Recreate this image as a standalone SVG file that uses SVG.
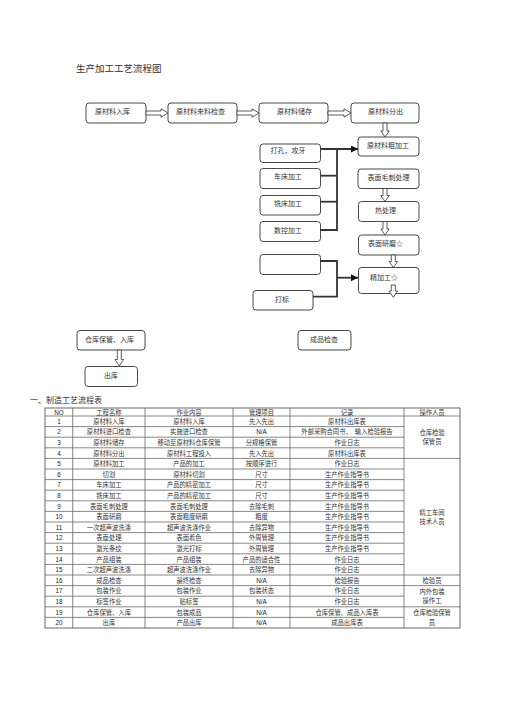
<svg xmlns="http://www.w3.org/2000/svg" width="505" height="714" viewBox="0 0 505 714">
<style>
text{font-family:"Liberation Serif","Noto Sans CJK SC",serif;fill:#333}
.bx{fill:#fff;stroke:#333;stroke-width:0.9}
.bt{font-size:7px;dominant-baseline:central}
.ha{fill:#fff;stroke:#333;stroke-width:0.8}
.cn{fill:none;stroke:#333;stroke-width:1.8}
.tl{stroke:#555;stroke-width:0.7}
.tt{font-size:6.3px;text-anchor:middle;dominant-baseline:central}
.tn{font-family:"Liberation Sans","DejaVu Sans",sans-serif;font-size:6.3px;text-anchor:middle;dominant-baseline:central;fill:#222}
</style>
<defs>
<marker id="ah" markerUnits="userSpaceOnUse" markerWidth="8" markerHeight="8" refX="7" refY="3.5" orient="auto">
<path d="M0,0 L7,3.5 L0,7 Z" fill="#111"/>
</marker>
</defs>
<rect width="505" height="714" fill="#fff"/>
<text x="76" y="71.5" style="font-size:9.5px">生产加工工艺流程图</text>

<g id="n1"><rect class="bx" x="86" y="103" width="60" height="20" rx="3"/><text class="bt" x="95" y="112">原材料入库</text></g>
<g id="n2"><rect class="bx" x="168" y="103" width="69" height="20" rx="3"/><text class="bt" x="176" y="112">原材料来料检查</text></g>
<g id="n3"><rect class="bx" x="259" y="103" width="69" height="20" rx="3"/><text class="bt" x="277" y="112">原材料储存</text></g>
<g id="n4"><rect class="bx" x="351" y="103" width="68" height="20" rx="3"/><text class="bt" x="368" y="112">原材料分出</text></g>
<g id="n5"><rect class="bx" x="358" y="137" width="61" height="19" rx="3"/><text class="bt" x="367" y="145.5">原材料粗加工</text></g>
<g id="n6"><rect class="bx" x="260" y="144" width="60.5" height="18.5" rx="3"/><text class="bt" x="270.5" y="151">打孔，攻牙</text></g>
<g id="n7"><rect class="bx" x="260" y="168.5" width="60.5" height="20" rx="3"/><text class="bt" x="274" y="176.5">车床加工</text></g>
<g id="n8"><rect class="bx" x="260" y="195.5" width="60.5" height="19.5" rx="3"/><text class="bt" x="274" y="204">铣床加工</text></g>
<g id="n9"><rect class="bx" x="260" y="221.5" width="60.5" height="20" rx="3"/><text class="bt" x="274" y="231">数控加工</text></g>
<g id="n10"><rect class="bx" x="358" y="169" width="61" height="19.5" rx="3"/><text class="bt" x="367.5" y="177.5">表面毛刺处理</text></g>
<g id="n11"><rect class="bx" x="358.5" y="201.5" width="60.5" height="20" rx="3"/><text class="bt" x="375" y="210.5">热处理</text></g>
<g id="n12"><rect class="bx" x="358.5" y="235" width="60.5" height="20" rx="3"/><text class="bt" x="368" y="243.5">表面研磨☆</text></g>
<g id="n13"><rect class="bx" x="358.5" y="267.5" width="60.5" height="26" rx="3"/><text class="bt" x="370" y="277.5">精加工☆</text></g>
<g id="n14"><rect class="bx" x="260" y="254.5" width="60.5" height="20" rx="3"/></g>
<g id="n15"><rect class="bx" x="253" y="290.5" width="60" height="19.5" rx="3"/><text class="bt" x="275" y="300">打标</text></g>
<g id="n16"><rect class="bx" x="298" y="330.5" width="53" height="19.5" rx="3"/><text class="bt" x="310" y="339.5">成品检查</text></g>
<g id="n17"><rect class="bx" x="77" y="330.5" width="68" height="19.5" rx="3"/><text class="bt" x="85" y="339.5">仓库保管、入库</text></g>
<g id="n18"><rect class="bx" x="85" y="366.5" width="52.5" height="20" rx="3"/><text class="bt" x="104" y="375.5">出库</text></g>

<g id="connectors">
<polygon class="ha" points="146,111 161,111 161,108.8 168,113 161,117.2 161,115 146,115"/>
<polygon class="ha" points="237,111 252,111 252,108.8 259,113 252,117.2 252,115 237,115"/>
<polygon class="ha" points="328,111 344,111 344,108.8 351,113 344,117.2 344,115 328,115"/>
<polygon class="ha" points="383,123 383,131 380.8,131 385,137 389.2,131 387,131 387,123"/>
<polygon class="ha" points="383,188.5 383,195.5 380.8,195.5 385,201.5 389.2,195.5 387,195.5 387,188.5"/>
<polygon class="ha" points="383,221.5 383,229 380.8,229 385,235 389.2,229 387,229 387,221.5"/>
<polygon class="ha" points="391.3,255 391.3,261.5 389,261.5 393.3,267.5 397.6,261.5 395.3,261.5 395.3,255"/>
<polygon class="ha" points="391.3,285 391.3,291 389,291 393.3,297.3 397.6,291 395.3,291 395.3,285"/>
<polygon class="ha" points="117.3,350 117.3,359.5 115,359.5 119.3,366 123.6,359.5 121.3,359.5 121.3,350"/>
<polyline class="cn" points="320.5,149 358,149" marker-end="url(#ah)"/>
<polyline class="cn" points="337,149 337,230 320.5,230"/>
<polyline class="cn" points="320.5,175.7 337,175.7"/>
<polyline class="cn" points="320.5,201.7 337,201.7"/>
<polyline class="cn" points="320.5,261 337,261 337,296.7 313,296.7"/>
<polyline class="cn" points="337,277.7 358,277.7" marker-end="url(#ah)"/>
</g>

<text x="30" y="402.5" style="font-size:8px">一、制造工艺流程表</text>

<g id="table">
<rect x="45" y="408" width="415" height="220" fill="none" stroke="#444" stroke-width="0.8"/>
<g class="tl">
<line x1="72.7" y1="408" x2="72.7" y2="628"/>
<line x1="145" y1="408" x2="145" y2="628"/>
<line x1="233" y1="408" x2="233" y2="628"/>
<line x1="290" y1="408" x2="290" y2="628"/>
<line x1="404" y1="408" x2="404" y2="628"/>
<line x1="45" y1="416" x2="460" y2="416"/>
<line x1="45" y1="426.6" x2="404" y2="426.6"/>
<line x1="45" y1="437.2" x2="404" y2="437.2"/>
<line x1="45" y1="447.8" x2="404" y2="447.8"/>
<line x1="45" y1="458.4" x2="460" y2="458.4"/>
<line x1="45" y1="469" x2="404" y2="469"/>
<line x1="45" y1="479.6" x2="404" y2="479.6"/>
<line x1="45" y1="490.2" x2="404" y2="490.2"/>
<line x1="45" y1="500.8" x2="404" y2="500.8"/>
<line x1="45" y1="511.4" x2="404" y2="511.4"/>
<line x1="45" y1="522" x2="404" y2="522"/>
<line x1="45" y1="532.6" x2="404" y2="532.6"/>
<line x1="45" y1="543.2" x2="404" y2="543.2"/>
<line x1="45" y1="553.8" x2="404" y2="553.8"/>
<line x1="45" y1="564.4" x2="404" y2="564.4"/>
<line x1="45" y1="575" x2="460" y2="575"/>
<line x1="45" y1="585.6" x2="460" y2="585.6"/>
<line x1="45" y1="596.2" x2="404" y2="596.2"/>
<line x1="45" y1="606.8" x2="460" y2="606.8"/>
<line x1="45" y1="617.4" x2="404" y2="617.4"/>
</g>
<text class="tn" x="58.9" y="412">NO</text><text class="tt" x="108.9" y="412">工程名称</text><text class="tt" x="189" y="412">作业内容</text><text class="tt" x="261.5" y="412">管理项目</text><text class="tt" x="347" y="412">记录</text><text class="tt" x="432" y="412">操作人员</text>
<text class="tn" x="58.9" y="421.3">1</text><text class="tt" x="108.9" y="421.3">原材料入库</text><text class="tt" x="189" y="421.3">原材料入库</text><text class="tt" x="261.5" y="421.3">先入先出</text><text class="tt" x="347" y="421.3">原材料出库表</text>
<text class="tn" x="58.9" y="431.9">2</text><text class="tt" x="108.9" y="431.9">原材料进口检查</text><text class="tt" x="189" y="431.9">实施进口检查</text><text class="tn" x="261.5" y="431.9">N/A</text><text class="tt" x="347" y="431.9" xml:space="preserve">外部采购合同书，  输入检验报告</text>
<text class="tn" x="58.9" y="442.5">3</text><text class="tt" x="108.9" y="442.5">原材料储存</text><text class="tt" x="189" y="442.5">移动至原材料仓库保管</text><text class="tt" x="261.5" y="442.5">分规格保管</text><text class="tt" x="347" y="442.5">作业日志</text>
<text class="tn" x="58.9" y="453.1">4</text><text class="tt" x="108.9" y="453.1">原材料分出</text><text class="tt" x="189" y="453.1">原材料工程投入</text><text class="tt" x="261.5" y="453.1">先入先出</text><text class="tt" x="347" y="453.1">原材料出库表</text>
<text class="tn" x="58.9" y="463.7">5</text><text class="tt" x="108.9" y="463.7">原材料加工</text><text class="tt" x="189" y="463.7">产品的加工</text><text class="tt" x="261.5" y="463.7">按顺序进行</text><text class="tt" x="347" y="463.7">作业日志</text>
<text class="tn" x="58.9" y="474.3">6</text><text class="tt" x="108.9" y="474.3">切割</text><text class="tt" x="189" y="474.3">原材料切割</text><text class="tt" x="261.5" y="474.3">尺寸</text><text class="tt" x="347" y="474.3">生产作业指导书</text>
<text class="tn" x="58.9" y="484.9">7</text><text class="tt" x="108.9" y="484.9">车床加工</text><text class="tt" x="189" y="484.9">产品的精密加工</text><text class="tt" x="261.5" y="484.9">尺寸</text><text class="tt" x="347" y="484.9">生产作业指导书</text>
<text class="tn" x="58.9" y="495.5">8</text><text class="tt" x="108.9" y="495.5">铣床加工</text><text class="tt" x="189" y="495.5">产品的精密加工</text><text class="tt" x="261.5" y="495.5">尺寸</text><text class="tt" x="347" y="495.5">生产作业指导书</text>
<text class="tn" x="58.9" y="506.1">9</text><text class="tt" x="108.9" y="506.1">表面毛刺处理</text><text class="tt" x="189" y="506.1">表面毛刺处理</text><text class="tt" x="261.5" y="506.1">去除毛刺</text><text class="tt" x="347" y="506.1">生产作业指导书</text>
<text class="tn" x="58.9" y="516.7">10</text><text class="tt" x="108.9" y="516.7">表面研磨</text><text class="tt" x="189" y="516.7">表面粗度研磨</text><text class="tt" x="261.5" y="516.7">粗度</text><text class="tt" x="347" y="516.7">生产作业指导书</text>
<text class="tn" x="58.9" y="527.3">11</text><text class="tt" x="108.9" y="527.3">一次超声波洗涤</text><text class="tt" x="189" y="527.3">超声波洗涤作业</text><text class="tt" x="261.5" y="527.3">去除异物</text><text class="tt" x="347" y="527.3">生产作业指导书</text>
<text class="tn" x="58.9" y="537.9">12</text><text class="tt" x="108.9" y="537.9">表面处理</text><text class="tt" x="189" y="537.9">表面着色</text><text class="tt" x="261.5" y="537.9">外周管理</text><text class="tt" x="347" y="537.9">生产作业指导书</text>
<text class="tn" x="58.9" y="548.5">13</text><text class="tt" x="108.9" y="548.5">激光条纹</text><text class="tt" x="189" y="548.5">激光打标</text><text class="tt" x="261.5" y="548.5">外周管理</text><text class="tt" x="347" y="548.5">生产作业指导书</text>
<text class="tn" x="58.9" y="559.1">14</text><text class="tt" x="108.9" y="559.1">产品组装</text><text class="tt" x="189" y="559.1">产品组装</text><text class="tt" x="261.5" y="559.1">产品的适合性</text><text class="tt" x="347" y="559.1">作业日志</text>
<text class="tn" x="58.9" y="569.7">15</text><text class="tt" x="108.9" y="569.7">二次超声波洗涤</text><text class="tt" x="189" y="569.7">超声波洗涤作业</text><text class="tt" x="261.5" y="569.7">去除异物</text><text class="tt" x="347" y="569.7">作业日志</text>
<text class="tn" x="58.9" y="580.3">16</text><text class="tt" x="108.9" y="580.3">成品检查</text><text class="tt" x="189" y="580.3">最终检查</text><text class="tn" x="261.5" y="580.3">N/A</text><text class="tt" x="347" y="580.3">检验报告</text>
<text class="tn" x="58.9" y="590.9">17</text><text class="tt" x="108.9" y="590.9">包装作业</text><text class="tt" x="189" y="590.9">包装作业</text><text class="tt" x="261.5" y="590.9">包装状态</text><text class="tt" x="347" y="590.9">作业日志</text>
<text class="tn" x="58.9" y="601.5">18</text><text class="tt" x="108.9" y="601.5">标签作业</text><text class="tt" x="189" y="601.5">贴标签</text><text class="tn" x="261.5" y="601.5">N/A</text><text class="tt" x="347" y="601.5">作业日志</text>
<text class="tn" x="58.9" y="612.1">19</text><text class="tt" x="108.9" y="612.1">仓库保管、入库</text><text class="tt" x="189" y="612.1">包装成品</text><text class="tn" x="261.5" y="612.1">N/A</text><text class="tt" x="347" y="612.1">仓库保管、成品入库表</text>
<text class="tn" x="58.9" y="622.7">20</text><text class="tt" x="108.9" y="622.7">出库</text><text class="tt" x="189" y="622.7">产品出库</text><text class="tn" x="261.5" y="622.7">N/A</text><text class="tt" x="347" y="622.7">成品出库表</text>
<text class="tt" x="432" y="432.5">仓库检验</text><text class="tt" x="432" y="441.5">保管员</text>
<text class="tt" x="432" y="512">精工车间</text><text class="tt" x="432" y="521.4">技术人员</text>
<text class="tt" x="432" y="580.3">检验员</text>
<text class="tt" x="432" y="591.7">内外包装</text><text class="tt" x="432" y="600.7">操作工</text>
<text class="tt" x="432" y="612.9">仓库检验保管</text><text class="tt" x="432" y="622">员</text>
</g>
</svg>
